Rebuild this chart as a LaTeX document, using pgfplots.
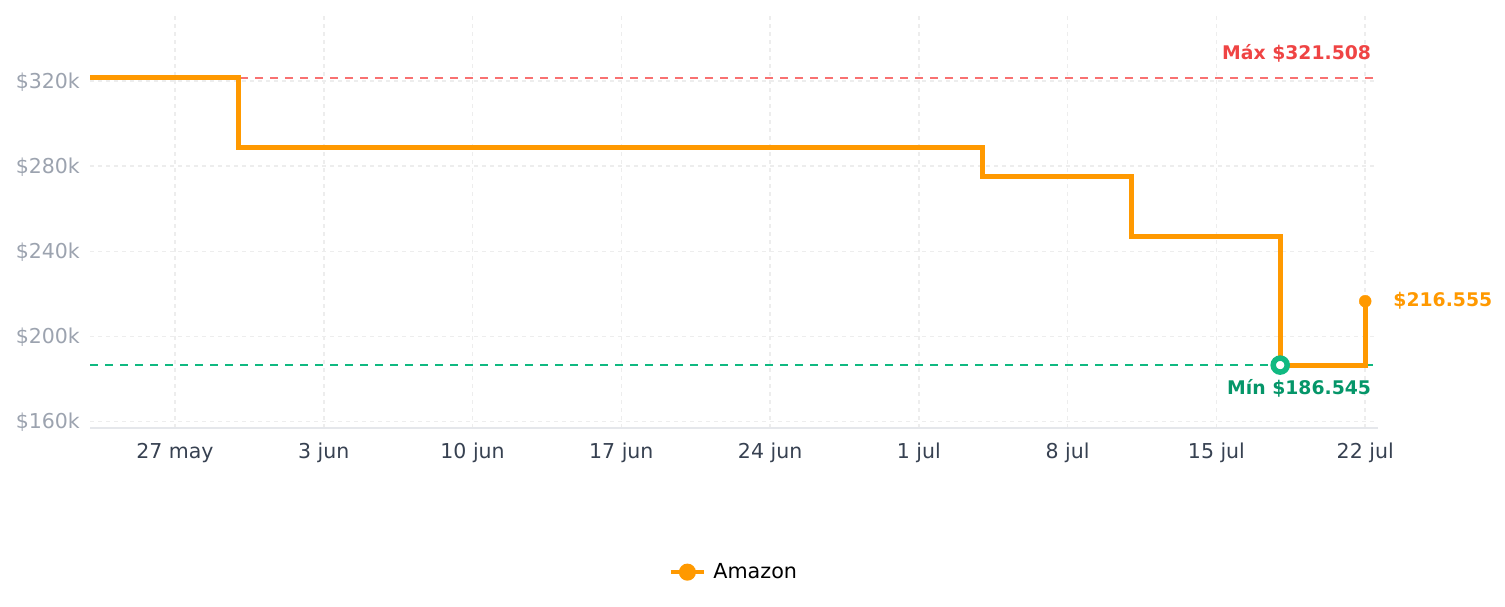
\documentclass[border=0pt]{standalone}
\usepackage{fontspec}
\setmainfont{DejaVu Sans}
\usepackage{pgfplots}
\pgfplotsset{compat=1.18}
\definecolor{amz}{HTML}{FF9900}
\definecolor{redtxt}{HTML}{EF4444}
\definecolor{redln}{HTML}{F87171}
\definecolor{grntxt}{HTML}{059669}
\definecolor{grnln}{HTML}{10B981}
\definecolor{ygray}{HTML}{9CA3AF}
\definecolor{xdark}{HTML}{374151}
\definecolor{gridc}{HTML}{EDEDED}
\definecolor{axisc}{HTML}{E5E7EB}
\begin{document}
\begin{tikzpicture}
\useasboundingbox (0,0) rectangle (1505bp,607bp);
\begin{axis}[
  at={(90bp,179bp)}, anchor=south west,
  scale only axis, width=1288bp, height=413bp,
  xmin=-4, xmax=56.6, ymin=157, ymax=351,
  clip=false,
  /pgf/number format/assume math mode=true,
  axis x line*=bottom, axis y line*=left,
  x axis line style={draw=axisc, line width=1.5bp},
  y axis line style={draw=none},
  major tick length=0pt,
  xtick={0,7,14,21,28,35,42,49,56},
  xticklabels={27 may,3 jun,10 jun,17 jun,24 jun,1 jul,8 jul,15 jul,22 jul},
  ytick={160,200,240,280,320},
  yticklabels={\$160k,\$200k,\$240k,\$280k,\$320k},
  xticklabel style={font=\fontsize{20.5bp}{24bp}\selectfont, text=xdark, inner sep=0pt},
  yticklabel style={font=\fontsize{20.5bp}{24bp}\selectfont, text=ygray, inner sep=0pt},
  xtick align=outside,
  every x tick label/.append style={yshift=-15bp},
  every y tick label/.append style={xshift=-10bp, yshift=-1bp},
  grid=major,
  major grid style={draw=gridc, line width=1.5bp, dash pattern=on 4bp off 4bp},
  legend style={at={(0.5,-0.349)}, anchor=center, draw=none, fill=none,
    font=\fontsize{20.7bp}{24bp}\selectfont},
]
% max and min reference lines
\addplot[forget plot, redln, line width=1.8bp, dash pattern=on 7.5bp off 7.5bp] coordinates {(-4,321.508) (56.6,321.508)};
\addplot[forget plot, grnln, line width=1.8bp, dash pattern=on 7.5bp off 7.5bp] coordinates {(-4,186.545) (56.6,186.545)};
% price history
\addplot[const plot, amz, line width=5bp,
  legend image code/.code={
    \draw[amz, line width=4bp] (-8bp,0bp) -- (25bp,0bp);
    \fill[amz] (8.5bp,0bp) circle (6bp);
    \path (30bp,0bp);
  }] coordinates {
  (-4,321.508) (3,288.8) (38,275.0) (45,247.0) (52,186.545) (56,216.555)
};
\addlegendentry{Amazon}
% end point
\addplot[forget plot, only marks, mark=*, mark size=6bp, amz] coordinates {(56,216.555)};
% min marker
\addplot[forget plot, only marks, mark=*, mark size=7bp, mark options={draw=grnln, fill=white, line width=5.5bp}] coordinates {(52,186.545)};
% labels
\node[anchor=east, inner sep=0pt, text=redtxt, font=\bfseries\fontsize{18.8bp}{22bp}\selectfont] at (axis cs:56.28,333.0) {Máx \$321.508};
\node[anchor=east, inner sep=0pt, text=grntxt, font=\bfseries\fontsize{18.8bp}{22bp}\selectfont] at (axis cs:56.28,175.4) {Mín \$186.545};
\node[anchor=west, inner sep=0pt, text=amz, font=\bfseries\fontsize{18.8bp}{22bp}\selectfont] at (axis cs:57.32,216.8) {\$216.555};
\end{axis}
\end{tikzpicture}
\end{document}
